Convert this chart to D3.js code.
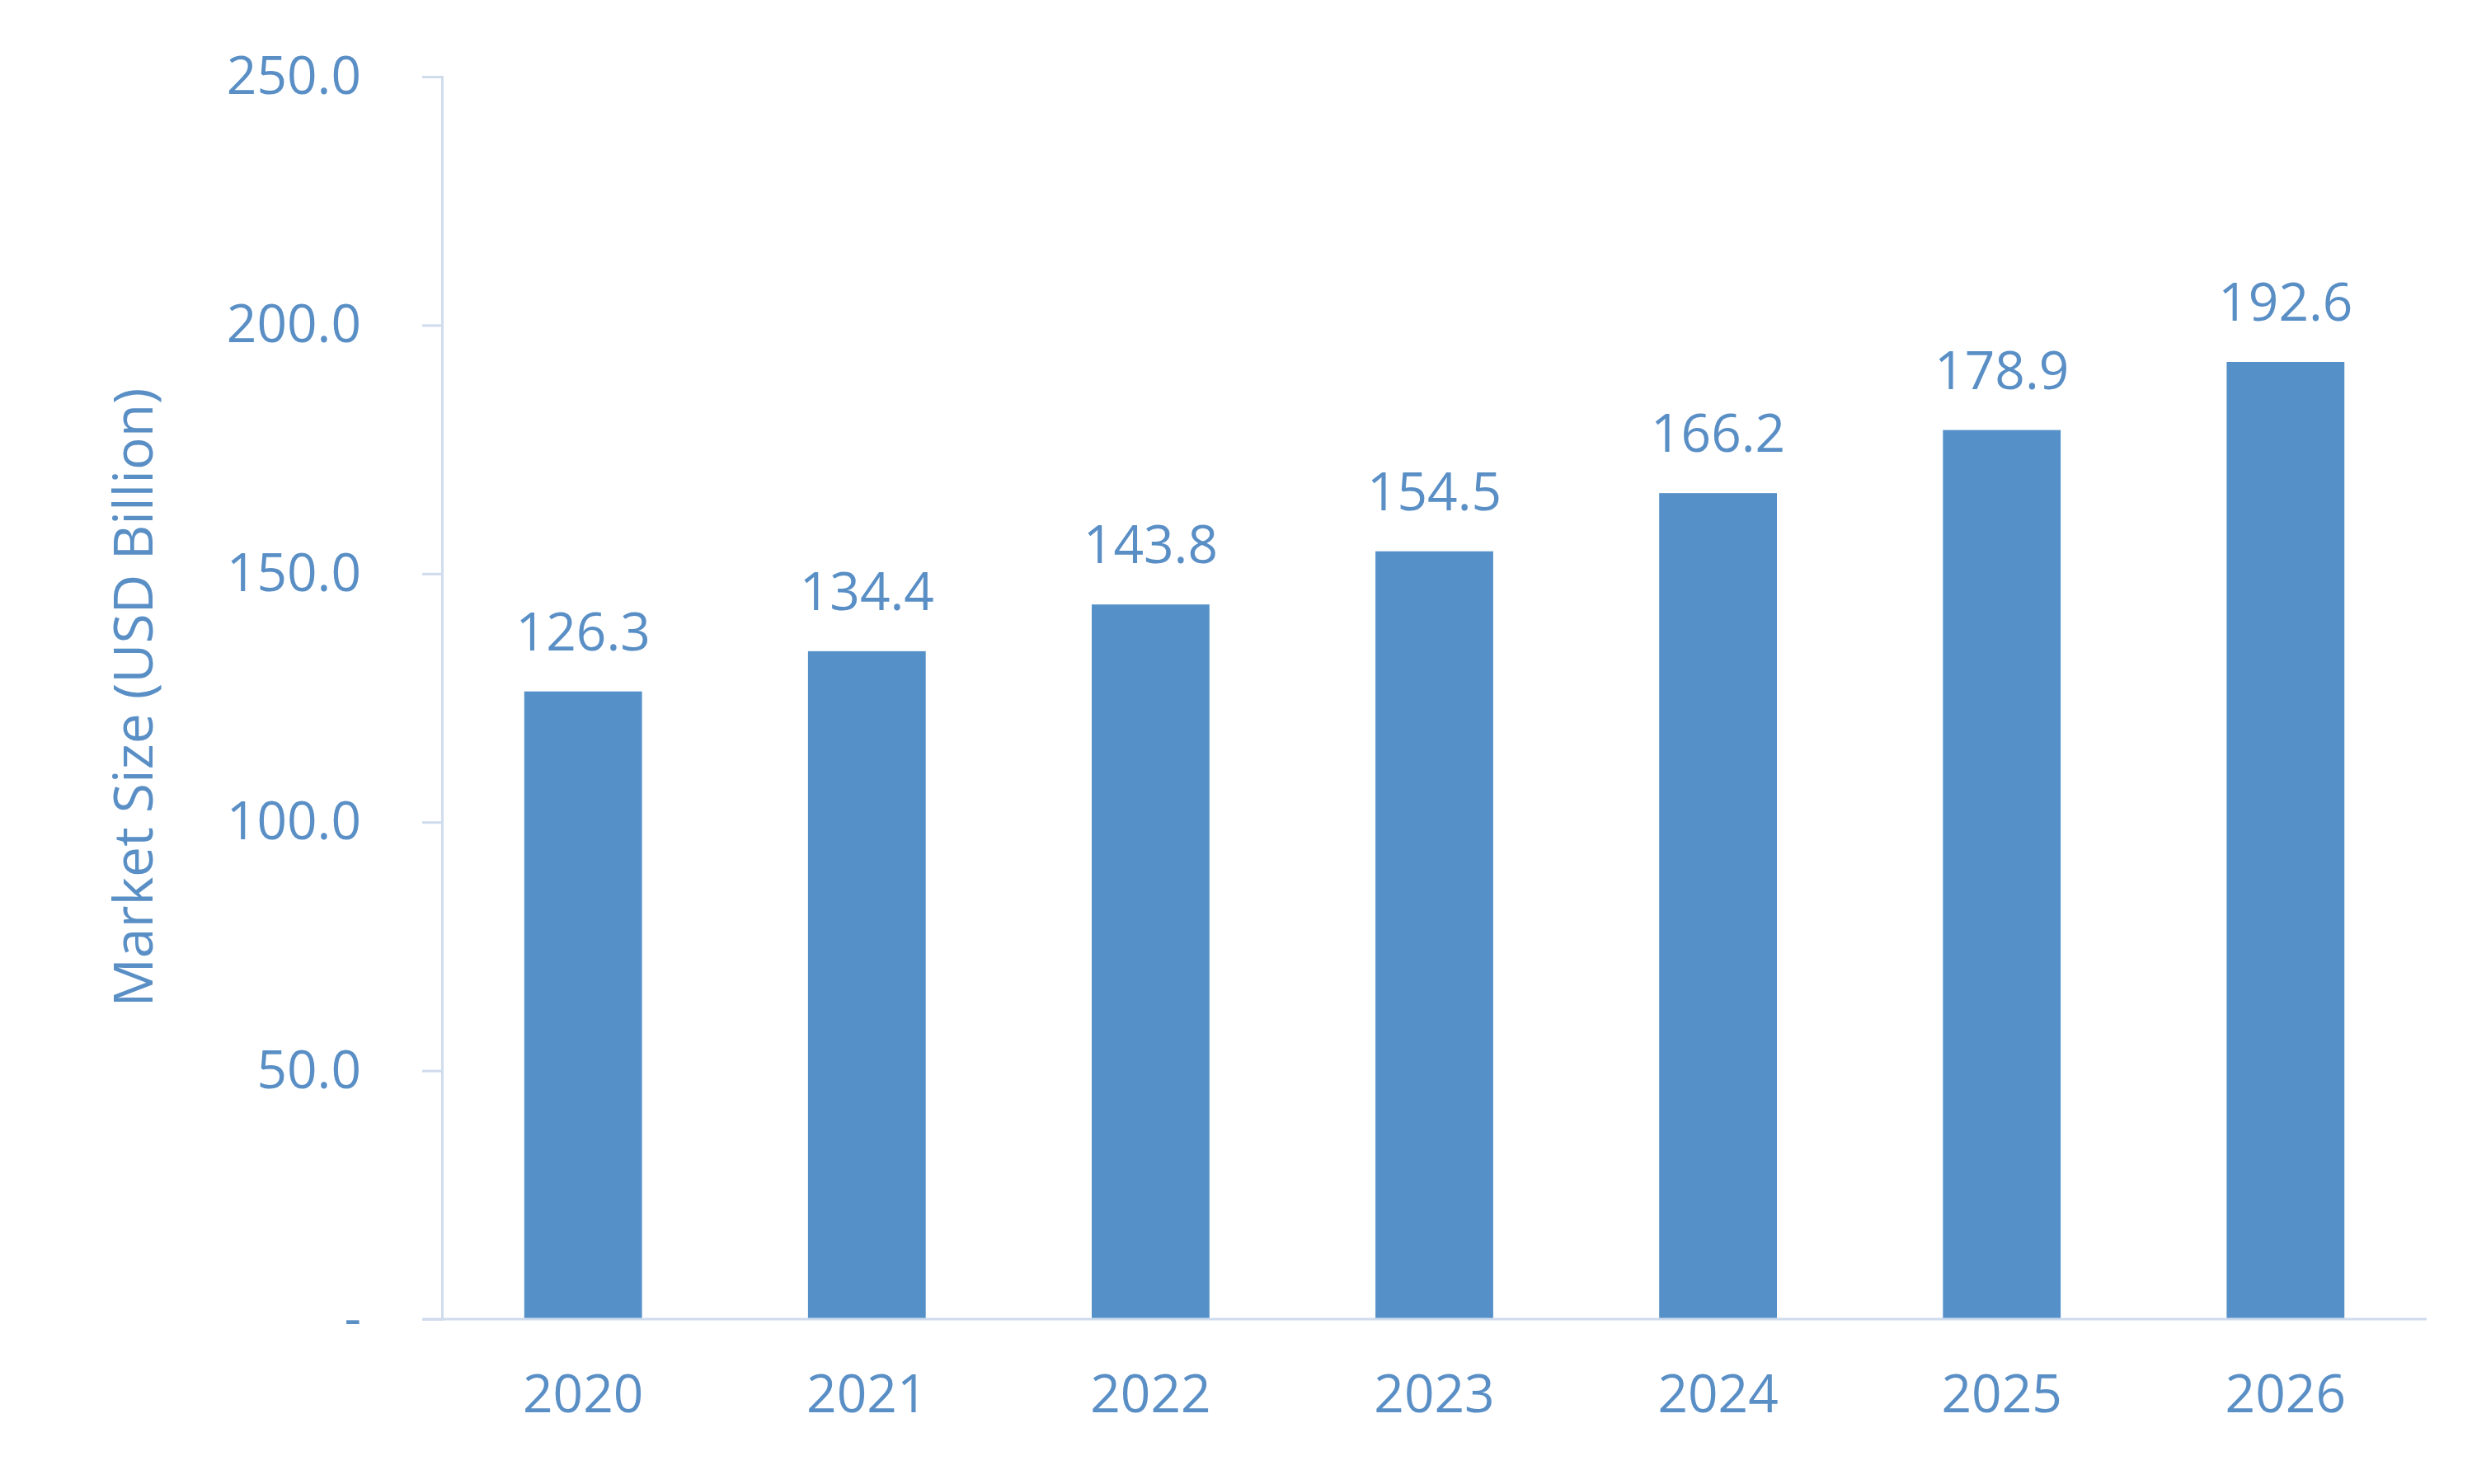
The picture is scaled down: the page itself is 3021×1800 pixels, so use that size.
<!DOCTYPE html>
<html><head><meta charset="utf-8">
<script src="https://cdn.jsdelivr.net/npm/d3@7"></script>
<style>body{margin:0;background:#fff}text{font-family:"Open Sans","Liberation Sans",sans-serif}</style>
</head><body>
<script>
var years = ["2020","2021","2022","2023","2024","2025","2026"];
var values = [126.3,134.4,143.8,154.5,166.2,178.9,192.6];
var yTicks = [0,50,100,150,200,250];

var W = 3021, H = 1800;
var mLeft = 536, mRight = 2943, mTop = 93, mBottom = 1600;
var blue = "#5591c8", textCol = "#5a8fc6", axisCol = "#cfdced";

var svg = d3.select("body").append("svg").attr("width", W).attr("height", H);

var x = d3.scaleBand().domain(years).range([mLeft, mRight]).paddingInner(0.585).paddingOuter(0.29);
var y = d3.scaleLinear().domain([0, 250]).range([mBottom, mTop]);

svg.selectAll("rect.bar").data(values).enter().append("rect")
	.attr("class", "bar")
	.attr("x", function(d, i) { return x(years[i]); })
	.attr("y", function(d) { return y(d); })
	.attr("width", x.bandwidth())
	.attr("height", function(d) { return y(0) - y(d); })
	.attr("fill", blue);

svg.selectAll("text.lbl").data(values).enter().append("text")
	.attr("x", function(d, i) { return x(years[i]) + x.bandwidth() / 2; })
	.attr("y", function(d) { return y(d) - 50; })
	.attr("text-anchor", "middle").attr("font-size", 64).attr("fill", textCol)
	.text(function(d) { return d.toFixed(1); });

// y axis
var yAxis = svg.append("g").attr("transform", "translate(" + mLeft + ",0)")
	.call(d3.axisLeft(y).tickValues(yTicks).tickSize(24).tickPadding(74)
		.tickFormat(function(d) { return d === 0 ? "-" : d.toFixed(1); }));
yAxis.select(".domain").attr("stroke", axisCol).attr("stroke-width", 3);
yAxis.selectAll(".tick line").attr("stroke", axisCol).attr("stroke-width", 3);
yAxis.selectAll(".tick text").attr("font-size", 64).attr("fill", textCol)
	.attr("font-family", "'Open Sans','Liberation Sans',sans-serif");

// x axis
var xAxis = svg.append("g").attr("transform", "translate(0," + mBottom + ")")
	.call(d3.axisBottom(x).tickSize(0).tickPadding(68));
xAxis.select(".domain").attr("d", "M" + (mLeft - 24) + ",0H" + mRight).attr("stroke", axisCol).attr("stroke-width", 3);
xAxis.selectAll(".tick text").attr("font-size", 64).attr("fill", textCol)
	.attr("font-family", "'Open Sans','Liberation Sans',sans-serif");

svg.append("text")
	.attr("transform", "translate(185,846) rotate(-90)")
	.attr("text-anchor", "middle").attr("font-size", 66).attr("fill", textCol)
	.text("Market Size (USD Billion)");
</script>
</body></html>
